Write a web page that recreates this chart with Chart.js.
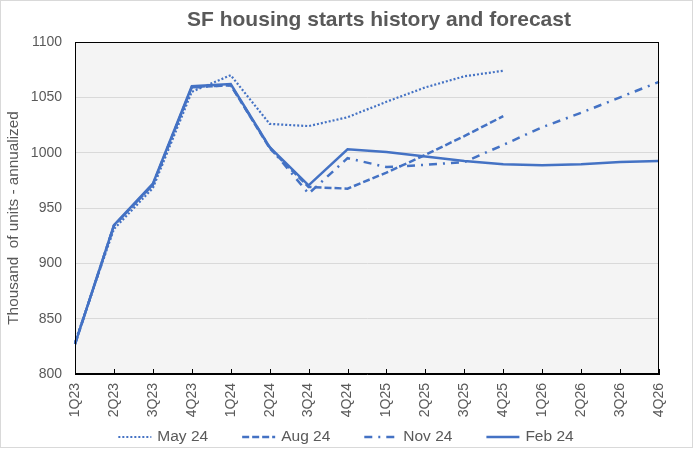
<!DOCTYPE html>
<html>
<head>
<meta charset="utf-8">
<script src="https://cdn.jsdelivr.net/npm/chart.js@4.4.1/dist/chart.umd.min.js"></script>
<style>
html,body{margin:0;padding:0;background:#fff;}
#wrap{width:694px;height:450px;position:relative;}
canvas{display:block;}
</style>
</head>
<body>
<div id="wrap"><canvas id="c" width="694" height="450"></canvas></div>
<script>
// ---- data ----
const categories = ['1Q23','2Q23','3Q23','4Q23','1Q24','2Q24','3Q24','4Q24','1Q25','2Q25','3Q25','4Q25','1Q26','2Q26','3Q26','4Q26'];
const seriesNames = ['May 24','Aug 24','Nov 24','Feb 24'];
const may24 = [829, 931, 968, 1055, 1070, 1026, 1024, 1032, 1046, 1059, 1069, 1074, null, null, null, null];
const aug24 = [827, 934, 971, 1059, 1061, 1004, 969, 967.5, 982, 998, 1015, 1033, null, null, null, null];
const nov24 = [827, 934, 971, 1059, 1061, 1005, 963, 995, 987, 989, 991.5, 1007, 1023, 1036, 1050, 1064];
const feb24 = [827, 934.5, 972, 1060, 1062, 1005, 970.5, 1003, 1000.5, 996.5, 992.5, 989.5, 988.6, 989.5, 991.5, 992.5];
const yMin = 800, yMax = 1100, yStep = 50;
const chartTitle = 'SF housing starts history and forecast';
const yAxisTitle = 'Thousand  of units - annualized';

const BLUE = '#4472C4';
const TEXT = '#595959';
const FONT = '"Liberation Sans", Arial, sans-serif';

const deco = {
  id: 'deco',
  beforeDraw(chart) {
    const {ctx, chartArea: a} = chart;
    ctx.save();
    ctx.fillStyle = '#ffffff';
    ctx.fillRect(0, 0, chart.width, chart.height);
    ctx.fillStyle = '#F4F4F4';
    ctx.fillRect(a.left, a.top, a.right - a.left, a.bottom - a.top);
    ctx.restore();
  },
  afterDraw(chart) {
    const {ctx, chartArea: a} = chart;
    const xs = chart.scales.x;
    ctx.save();
    // plot border
    ctx.strokeStyle = '#000';
    ctx.lineWidth = 1;
    ctx.strokeRect(Math.round(a.left) + 0.5, Math.round(a.top) + 0.5, Math.round(a.right - a.left) - 1, Math.round(a.bottom - a.top) - 1);
    // inside tick marks on x axis
    ctx.beginPath();
    for (let i = 0; i < categories.length; i++) {
      const px = Math.round(xs.getPixelForTick(i)) + 0.5;
      ctx.moveTo(px, a.bottom);
      ctx.lineTo(px, a.bottom - 5);
    }
    ctx.stroke();
    // title
    ctx.fillStyle = TEXT;
    ctx.font = 'bold 21px ' + FONT;
    ctx.textAlign = 'center';
    ctx.textBaseline = 'middle';
    ctx.fillText(chartTitle, 379, 20);
    // y axis title
    ctx.save();
    ctx.translate(14, 218);
    ctx.rotate(-Math.PI / 2);
    ctx.font = '15.3px ' + FONT;
    ctx.fillText(yAxisTitle, 0, 0);
    ctx.restore();
    // legend
    ctx.font = '15.5px ' + FONT;
    ctx.textAlign = 'left';
    const lineLen = 33, gap = 6, spacing = 34;
    const dsets = chart.data.datasets;
    let total = 0;
    const widths = dsets.map(d => ctx.measureText(d.label).width);
    widths.forEach(w => total += lineLen + gap + w);
    total += spacing * (dsets.length - 1);
    let x = 346 - total / 2;
    const ly = 437;
    dsets.forEach((d, i) => {
      ctx.save();
      ctx.strokeStyle = d.borderColor;
      ctx.lineWidth = d.borderWidth;
      ctx.setLineDash(d.borderDash || []);
      ctx.beginPath();
      ctx.moveTo(x, ly);
      ctx.lineTo(x + lineLen, ly);
      ctx.stroke();
      ctx.restore();
      ctx.fillStyle = TEXT;
      ctx.fillText(d.label, x + lineLen + gap, ly);
      x += lineLen + gap + widths[i] + spacing;
    });
    // outer chart border
    ctx.strokeStyle = '#D9D9D9';
    ctx.lineWidth = 1;
    ctx.setLineDash([]);
    ctx.strokeRect(0.5, 0.5, 692, 447);
    ctx.restore();
  }
};

const mk = (label, data, dash, w) => ({
  label, data,
  borderColor: BLUE,
  backgroundColor: BLUE,
  borderWidth: w,
  borderDash: dash,
  borderCapStyle: 'butt',
  pointRadius: 0,
  pointHoverRadius: 0,
  tension: 0,
  spanGaps: false,
  fill: false
});

new Chart(document.getElementById('c'), {
  type: 'line',
  data: {
    labels: categories,
    datasets: [
      mk(seriesNames[0], may24, [2, 2], 2.2),
      mk(seriesNames[1], aug24, [7, 3], 2.5),
      mk(seriesNames[2], nov24, [8, 6, 2, 6], 2.5),
      mk(seriesNames[3], feb24, [], 2.5)
    ]
  },
  options: {
    responsive: false,
    animation: false,
    devicePixelRatio: 1,
    layout: { padding: { top: 42, right: 35, left: 0, bottom: 0 } },
    plugins: {
      legend: { display: false },
      title: { display: false },
      tooltip: { enabled: false }
    },
    scales: {
      x: {
        type: 'category',
        offset: false,
        grid: { display: false, drawTicks: false },
        border: { display: true, color: '#000', width: 1 },
        ticks: {
          autoSkip: false,
          maxRotation: 90,
          minRotation: 90,
          padding: 9,
          color: TEXT,
          font: { family: FONT, size: 14 }
        },
        afterFit(s) { s.height = 76; }
      },
      y: {
        min: yMin,
        max: yMax,
        grid: { color: '#D9D9D9', drawTicks: false, lineWidth: 1 },
        border: { display: true, color: '#000', width: 1 },
        ticks: {
          stepSize: yStep,
          padding: 13,
          color: TEXT,
          font: { family: FONT, size: 14 },
          callback: (v) => String(v)
        },
        afterFit(s) { s.width = 75; }
      }
    }
  },
  plugins: [deco]
});
</script>
</body>
</html>
